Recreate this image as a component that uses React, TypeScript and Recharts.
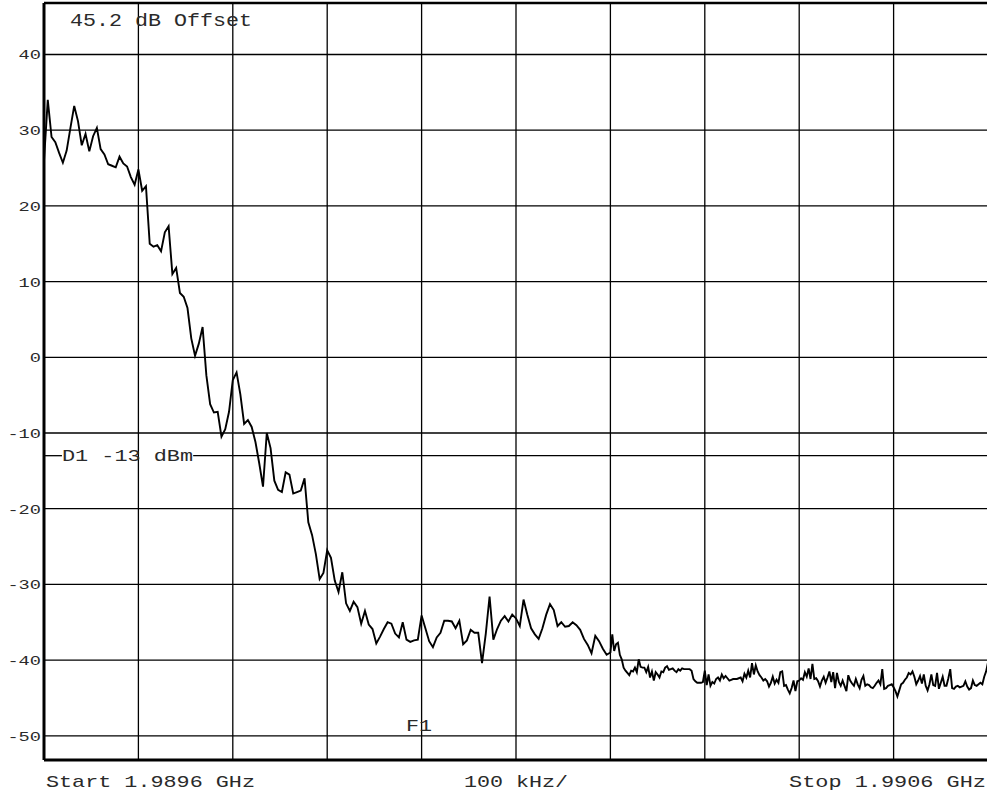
import { LineChart, Line, XAxis, YAxis, CartesianGrid, ReferenceLine } from "recharts";

// trace level (dB), one array per 100 kHz division
// divisions 0-5 are sampled every 4 kHz
const div0 = [26, 34.0, 29.1, 28.4, 27.0, 25.7, 27.3, 30.3, 33.2, 31.2, 28.0, 29.5, 27.2, 29.2, 30.3, 27.5, 26.8, 25.5, 25.3, 25.1, 26.5, 25.6, 25.2, 23.8, 22.8];
const div1 = [24.8, 22.0, 22.6, 15.0, 14.6, 14.8, 14.0, 16.5, 17.3, 11.0, 11.8, 8.5, 8.0, 6.5, 2.5, 0.2, 1.8, 4.0, -2.4, -6.2, -7.3, -7.2, -10.5, -9.5, -7.2];
const div2 = [-3.0, -2.0, -4.9, -8.8, -8.3, -9.2, -11.2, -14.0, -17.1, -10.0, -12.0, -16.3, -17.5, -17.8, -15.2, -15.5, -18.0, -17.8, -17.6, -16.0, -21.8, -23.5, -26.0, -29.3, -28.5];
const div3 = [-25.5, -26.5, -29.5, -31.0, -28.4, -32.5, -33.5, -32.3, -33.0, -35.2, -33.5, -35.3, -35.9, -37.8, -36.9, -35.9, -35.0, -35.2, -36.5, -37.0, -35.0, -37.3, -37.6, -37.4, -37.3];
const div4 = [-34.1, -35.8, -37.5, -38.3, -37.0, -36.4, -34.8, -34.8, -34.9, -35.8, -34.8, -37.9, -37.4, -36.0, -36.4, -36.4, -40.4, -36.5, -31.6, -37.3, -35.9, -34.8, -34.2, -34.9, -34.0];
const div5 = [-34.5, -35.5, -32.0, -34.0, -35.8, -36.6, -37.2, -35.8, -34.0, -32.6, -33.4, -35.5, -35.0, -35.6, -35.5, -35.0, -35.4, -36.0, -37.2, -38.0, -39.1, -36.8, -37.5, -38.5, -39.3];
// divisions 6-9 (noise floor) are sampled every 2 kHz
const div6 = [-39.0, -36.6, -38.8, -37.9, -37.7, -39.3, -39.9, -41.0, -41.4, -41.7, -42.0, -41.4, -41.5, -41.0, -41.6, -39.9, -40.9, -41.0, -41.0, -41.6, -40.9, -42.3, -41.5, -42.7, -41.6, -41.9, -42.3, -41.5, -41.6, -41.0, -40.8, -41.3, -41.2, -41.1, -41.4, -41.6, -41.2, -41.4, -41.1, -41.2, -41.2, -41.2, -41.2, -41.4, -42.5, -42.8, -43.0, -43.0, -43.0, -42.9];
const div7 = [-41.4, -43.3, -41.9, -43.4, -42.9, -43.1, -42.5, -42.3, -42.7, -41.9, -42.4, -42.1, -42.4, -42.7, -42.6, -42.5, -42.5, -42.5, -42.4, -42.3, -42.8, -41.8, -42.3, -41.4, -42.3, -40.4, -41.9, -40.7, -41.5, -42.0, -42.3, -42.7, -42.5, -42.8, -43.5, -43.0, -42.2, -43.1, -42.6, -43.0, -41.6, -41.5, -43.4, -43.3, -43.9, -44.4, -43.7, -42.7, -44.1, -42.8];
const div8 = [-42.7, -42.4, -42.6, -41.6, -42.2, -41.1, -42.5, -40.5, -42.5, -42.4, -42.8, -43.5, -42.7, -42.2, -43.0, -42.3, -41.5, -42.9, -41.6, -43.7, -41.7, -42.9, -43.4, -42.7, -43.4, -44.1, -42.0, -42.7, -43.1, -43.4, -42.5, -43.2, -43.7, -42.6, -42.1, -43.4, -43.2, -43.3, -43.6, -43.7, -43.4, -43.0, -42.7, -43.2, -41.2, -43.8, -43.7, -43.4, -43.3, -43.2];
const div9 = [-43.6, -44.1, -44.8, -44.0, -43.2, -43.0, -42.6, -42.3, -41.7, -41.9, -41.5, -42.2, -43.2, -42.7, -42.1, -43.1, -41.9, -43.4, -44.0, -43.2, -41.9, -43.3, -43.4, -41.7, -43.8, -43.0, -42.2, -43.4, -43.4, -42.4, -41.2, -43.7, -43.8, -43.5, -43.4, -43.6, -43.5, -43.4, -42.8, -43.5, -43.9, -43.7, -42.7, -43.3, -43.4, -43.2, -43.0, -43.2, -42.2, -41.5, -40.3];

const coarseDivs = [div0, div1, div2, div3, div4, div5];
const fineDivs = [div6, div7, div8, div9];
const COARSE_STEP = 4;
const FINE_STEP = 2;
const DIV_KHZ = 100;

const freqTicks = [0, 100, 200, 300, 400, 500, 600, 700, 800, 900, 1000];
const levelTicks = [-50, -40, -30, -20, -10, 0, 10, 20, 30, 40];
const TOP_DB = 46.8;
const BOTTOM_DB = -53.2;
const displayLine = -13;

const trace = [
  ...coarseDivs.flatMap((vals, d) => vals.map((db, i) => ({ khz: d * DIV_KHZ + i * COARSE_STEP, db }))),
  ...fineDivs.flatMap((vals, d) =>
    vals.map((db, i) => ({ khz: (d + coarseDivs.length) * DIV_KHZ + i * FINE_STEP, db }))
  ),
];

const MONO = "'Liberation Mono', 'DejaVu Sans Mono', monospace";
const INK = "#2a2a2a";

function LevelTick(props: any) {
  const { x, y, payload } = props;
  const s = String(payload.value);
  return (
    <text
      x={x}
      y={y + 5}
      textAnchor="end"
      fontFamily={MONO}
      fontSize={13.5}
      fill={INK}
      textLength={s.length * 11.2}
      lengthAdjust="spacingAndGlyphs"
    >
      {s}
    </text>
  );
}

function D1Label(props: any) {
  const vb = props.viewBox || {};
  return (
    <text
      x={62}
      y={(vb.y ?? 0) + 5}
      fontFamily={MONO}
      fontSize={16}
      fill={INK}
      textLength={131}
      lengthAdjust="spacingAndGlyphs"
    >
      D1 -13 dBm
    </text>
  );
}

function Caption({ x, y, size, len, children }: any) {
  return (
    <text
      x={x}
      y={y}
      fontFamily={MONO}
      fontSize={size}
      fill={INK}
      textLength={len}
      lengthAdjust="spacingAndGlyphs"
    >
      {children}
    </text>
  );
}

export default function App() {
  return (
    <div style={{ position: "absolute", left: 0, top: 0, width: 987, height: 796, overflow: "hidden", background: "#fff" }}>
      <LineChart width={990} height={796} data={trace} margin={{ top: 3, right: 2, bottom: 36, left: 0 }}>
        <CartesianGrid stroke="#000" strokeWidth={1.3} vertical={false} />
        <XAxis
          dataKey="khz"
          type="number"
          domain={[0, 1000]}
          ticks={freqTicks}
          height={0}
          tick={false}
          axisLine={false}
          tickLine={false}
        />
        <YAxis
          type="number"
          domain={[BOTTOM_DB, TOP_DB]}
          ticks={levelTicks}
          allowDataOverflow
          width={44}
          tickSize={0}
          tickMargin={3}
          axisLine={false}
          tick={<LevelTick />}
        />
        {freqTicks.map((f) => (
          <ReferenceLine key={f} x={f} stroke="#000" strokeWidth={1.3} />
        ))}
        <ReferenceLine segment={[{ x: 0, y: displayLine }, { x: 19, y: displayLine }]} stroke="#000" strokeWidth={1.3} />
        <ReferenceLine
          segment={[{ x: 158, y: displayLine }, { x: 1000, y: displayLine }]}
          stroke="#000"
          strokeWidth={1.3}
        />
        <ReferenceLine y={displayLine} stroke="none" label={<D1Label />} />
        <ReferenceLine y={TOP_DB} stroke="#000" strokeWidth={2.5} />
        <ReferenceLine y={BOTTOM_DB} stroke="#000" strokeWidth={3} />
        <ReferenceLine x={0} stroke="#000" strokeWidth={3} />
        <Line
          type="linear"
          dataKey="db"
          stroke="#000"
          strokeWidth={1.9}
          dot={false}
          isAnimationActive={false}
        />
      </LineChart>
      <svg width={987} height={796} style={{ position: "absolute", left: 0, top: 0, pointerEvents: "none" }}>
        <Caption x={70} y={26} size={18} len={182}>45.2 dB Offset</Caption>
        <Caption x={406} y={731} size={17} len={26}>F1</Caption>
        <Caption x={46} y={787} size={17} len={209}>Start 1.9896 GHz</Caption>
        <Caption x={464} y={787} size={17} len={104}>100 kHz/</Caption>
        <Caption x={789} y={787} size={17} len={197}>Stop 1.9906 GHz</Caption>
      </svg>
    </div>
  );
}
